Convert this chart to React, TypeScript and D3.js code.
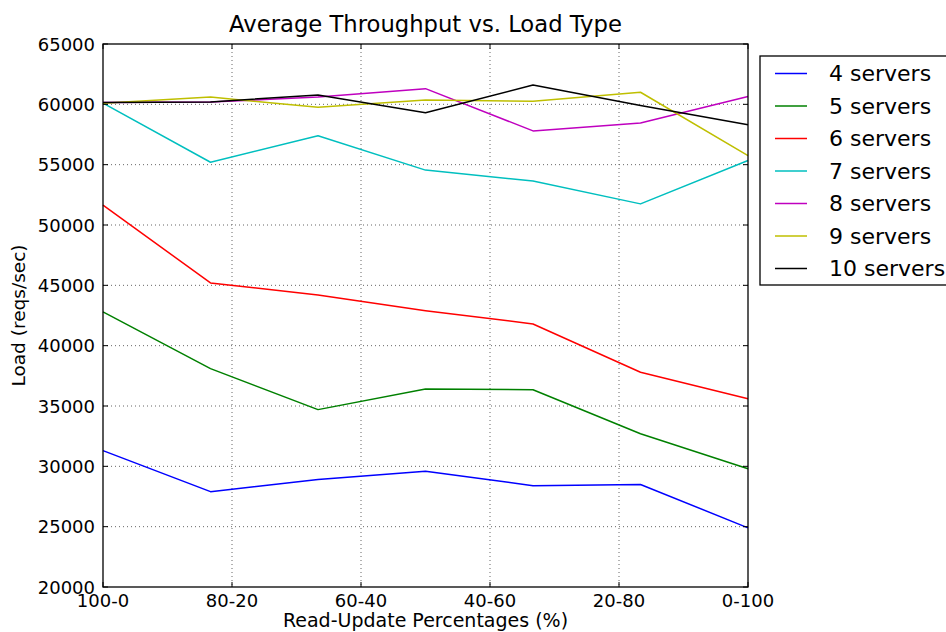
import React from "react";
import * as d3 from "d3";

// Read share (%) of each workload mix, 100-0 down to 0-100 in six equal steps
const readPercent = [100, 500 / 6, 400 / 6, 50, 200 / 6, 100 / 6, 0];

const servers4 = [31300, 27900, 28900, 29600, 28400, 28500, 24900];
const servers5 = [42800, 38100, 34700, 36400, 36350, 32700, 29800];
const servers6 = [51650, 45200, 44200, 42900, 41800, 37800, 35600];
const servers7 = [60100, 55200, 57400, 54550, 53650, 51750, 55350];
const servers8 = [60150, 60200, 60600, 61300, 57800, 58450, 60650];
const servers9 = [60100, 60600, 59750, 60350, 60250, 61000, 55750];
const servers10 = [60150, 60200, 60780, 59300, 61600, 59900, 58300];

const seriesNames = ["4 servers", "5 servers", "6 servers", "7 servers", "8 servers", "9 servers", "10 servers"];
const seriesValues = [servers4, servers5, servers6, servers7, servers8, servers9, servers10];
const seriesColors = ["#0000ff", "#008000", "#ff0000", "#00bfbf", "#bf00bf", "#bfbf00", "#000000"];

const xTickValues = [100, 80, 60, 40, 20, 0];
const xTickLabels = ["100-0", "80-20", "60-40", "40-60", "20-80", "0-100"];
const yTickValues = [20000, 25000, 30000, 35000, 40000, 45000, 50000, 55000, 60000, 65000];

const W = 946;
const H = 632;
const left = 103;
const right = 748;
const top = 44;
const bottom = 587;
const font = "'DejaVu Sans', sans-serif";

export default function App() {
  const x = d3.scaleLinear().domain([100, 0]).range([left, right]);
  const y = d3.scaleLinear().domain([20000, 65000]).range([bottom, top]);
  const line = d3
    .line<number>()
    .x((_, i) => x(readPercent[i]))
    .y((v) => y(v));

  const legendX = 760;
  const legendY = 56;
  const rowH = 32.5;

  return (
    <svg
      width={W}
      height={H}
      style={{ position: "fixed", left: 0, top: 0, background: "#fff" }}
      fontFamily={font}
    >
      <rect width={W} height={H} fill="#fff" />

      {/* grid */}
      <g stroke="#666" strokeWidth={1} strokeDasharray="1,3">
        {xTickValues.slice(1, -1).map((t) => (
          <line key={"gx" + t} x1={x(t)} x2={x(t)} y1={top} y2={bottom} />
        ))}
        {yTickValues.slice(1, -1).map((t) => (
          <line key={"gy" + t} x1={left} x2={right} y1={y(t)} y2={y(t)} />
        ))}
      </g>

      {/* series */}
      <g fill="none" strokeWidth={1.5} strokeLinejoin="round">
        {seriesValues.map((vals, i) => (
          <path key={seriesNames[i]} d={line(vals) ?? ""} stroke={seriesColors[i]} />
        ))}
      </g>

      {/* inward ticks on all four sides */}
      <g stroke="#000" strokeWidth={1}>
        {xTickValues.map((t) => (
          <g key={"tx" + t}>
            <line x1={x(t)} x2={x(t)} y1={bottom} y2={bottom - 5} />
            <line x1={x(t)} x2={x(t)} y1={top} y2={top + 5} />
          </g>
        ))}
        {yTickValues.map((t) => (
          <g key={"ty" + t}>
            <line x1={left} x2={left + 5} y1={y(t)} y2={y(t)} />
            <line x1={right} x2={right - 5} y1={y(t)} y2={y(t)} />
          </g>
        ))}
      </g>

      <rect x={left} y={top} width={right - left} height={bottom - top} fill="none" stroke="#000" strokeWidth={1.3} />

      {/* tick labels */}
      <g fontSize={18} fill="#000">
        {yTickValues.map((t) => (
          <text key={"ly" + t} x={left - 8} y={y(t)} textAnchor="end" dominantBaseline="central">
            {t}
          </text>
        ))}
        {xTickValues.map((t, i) => (
          <text key={"lx" + t} x={x(t)} y={bottom + 20} textAnchor="middle">
            {xTickLabels[i]}
          </text>
        ))}
      </g>

      <text x={(left + right) / 2} y={627} textAnchor="middle" fontSize={19}>
        Read-Update Percentages (%)
      </text>
      <text transform={`translate(25,${(top + bottom) / 2}) rotate(-90)`} textAnchor="middle" fontSize={18.5}>
        Load (reqs/sec)
      </text>
      <text x={(left + right) / 2} y={32} textAnchor="middle" fontSize={22.7}>
        Average Throughput vs. Load Type
      </text>

      {/* legend */}
      <rect x={legendX} y={legendY} width={220} height={229} fill="#fff" stroke="#000" strokeWidth={1.3} />
      {seriesNames.map((name, i) => {
        const cy = legendY + 17.5 + i * rowH;
        return (
          <g key={"lg" + name}>
            <line x1={775} x2={807} y1={cy} y2={cy} stroke={seriesColors[i]} strokeWidth={1.5} />
            <text x={829} y={cy} dominantBaseline="central" fontSize={22}>
              {name}
            </text>
          </g>
        );
      })}
    </svg>
  );
}
